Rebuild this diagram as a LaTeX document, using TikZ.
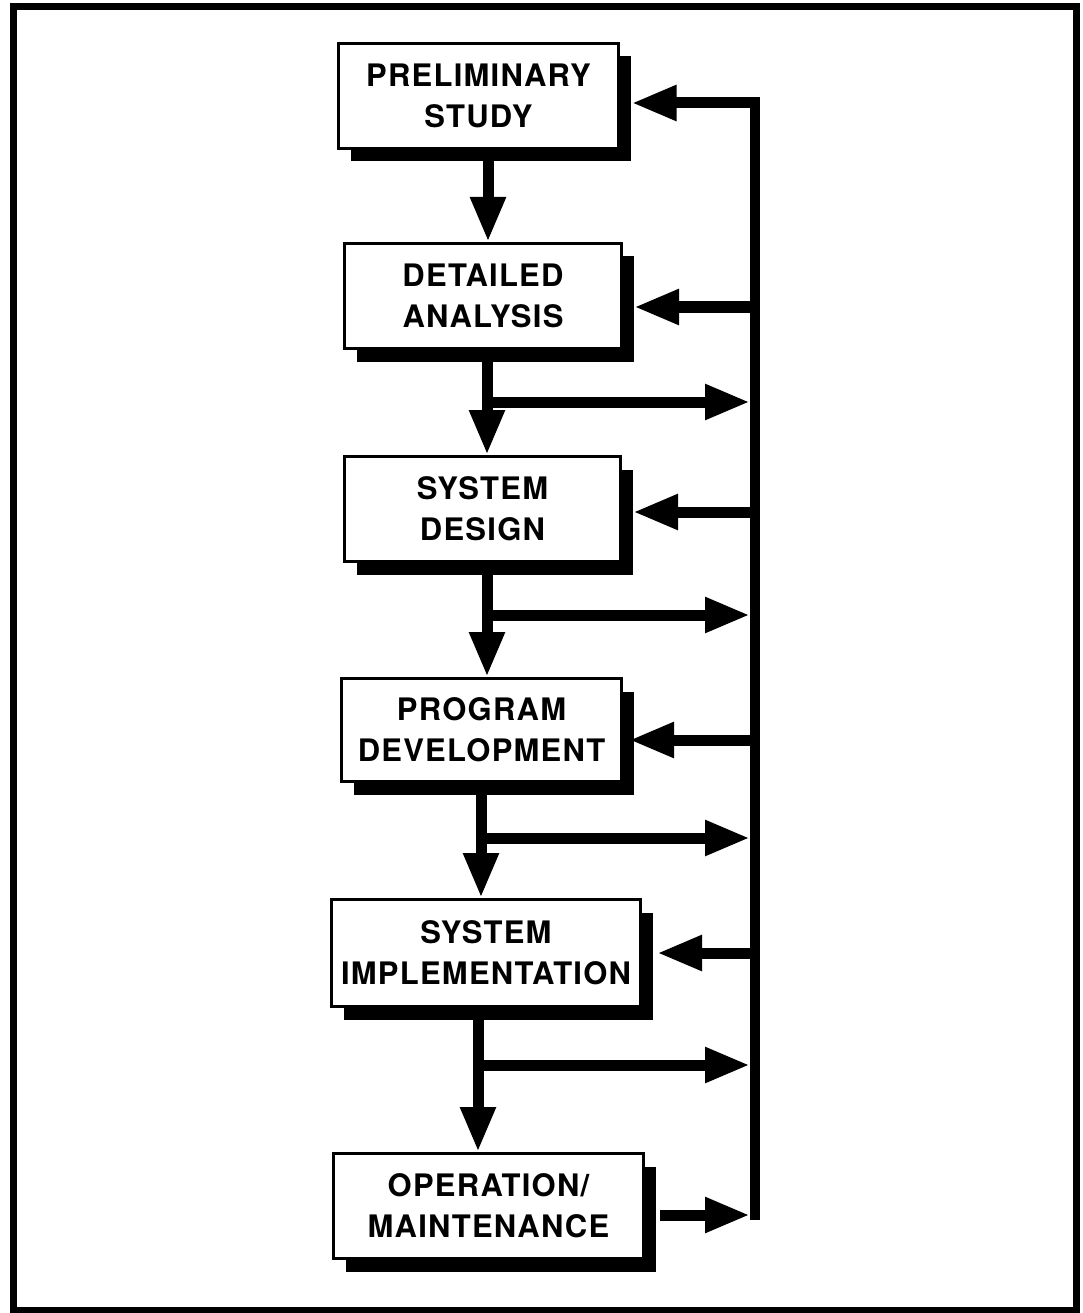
\documentclass[tikz,border=0pt]{standalone}
\usepackage{fontspec}
\setmainfont{TeX Gyre Heros}
\newfontfamily\stagefont{TeX Gyre Heros}[LetterSpace=4]
\usetikzlibrary{arrows.meta,calc,shadows}

\begin{document}
\begin{tikzpicture}[x=1pt,y=-1pt,
  stage/.style={draw, line width=3pt, fill=white, align=center, inner sep=0pt,
    font=\stagefont\bfseries\fontsize{31}{41}\selectfont,
    drop shadow={shadow xshift=12pt, shadow yshift=-13pt, fill=black, opacity=1}},
  flow/.style={line width=11pt, -{Triangle[length=45pt,width=33pt]}},
  busline/.style={line width=10pt, line cap=rect},
  frame/.style={line width=6.5pt}]

% page and frame
\useasboundingbox (0,0) rectangle (1083,1313);
\draw[frame] (13.5,6.5) rectangle (1076.5,1310.5);

% stages
\node[stage, minimum width=280pt, minimum height=105pt] (b1) at (478.5,96) {PRELIMINARY\\STUDY};
\node[stage, minimum width=277pt, minimum height=105pt] (b2) at (483,296) {DETAILED\\ANALYSIS};
\node[stage, minimum width=276pt, minimum height=105pt] (b3) at (482.5,509) {SYSTEM\\DESIGN};
\node[stage, minimum width=280pt, minimum height=103pt] (b4) at (481.5,730) {PROGRAM\\DEVELOPMENT};
\node[stage, minimum width=309pt, minimum height=107pt] (b5) at (486,953) {SYSTEM\\IMPLEMENTATION};
\node[stage, minimum width=310pt, minimum height=105pt] (b6) at (488.5,1206) {OPERATION/\\MAINTENANCE};

% columns of the downward flow and the feedback bus
\coordinate (d1) at (488,0);
\coordinate (d2) at (487,0);
\coordinate (d3) at (487,0);
\coordinate (d4) at (481,0);
\coordinate (d5) at (478,0);
\coordinate (busL) at (750,0);
\coordinate (busTop) at (755,102);
\coordinate (busBot) at (755,1215);

% feedback bus
\draw[busline] (busBot) -- (busTop);

% downward flow
\draw[flow] (b1.south -| d1) -- (b2.north -| d1);
\draw[flow] (b2.south -| d2) -- (b3.north -| d2);
\draw[flow] (b3.south -| d3) -- (b4.north -| d3);
\draw[flow] (b4.south -| d4) -- (b5.north -| d4);
\draw[flow] (b5.south -| d5) -- (b6.north -| d5);

% branches into the bus
\coordinate (j2) at (487,402);
\coordinate (j3) at (487,615);
\coordinate (j4) at (481,838);
\coordinate (j5) at (478,1065);
\draw[flow] (j2) -- (j2 -| busL);
\draw[flow] (j3) -- (j3 -| busL);
\draw[flow] (j4) -- (j4 -| busL);
\draw[flow] (j5) -- (j5 -| busL);
\coordinate (o6) at ($(b6.east)+(15,9)$);
\draw[flow] (o6) -- (o6 -| busL);

% returns from the bus
\coordinate (f1) at (760,103);
\coordinate (f2) at (755,307);
\coordinate (f3) at (755,512);
\coordinate (f4) at (755,740);
\coordinate (f5) at (755,953);
\draw[flow] (f1) -- ($(b1.east)+(11.5,7)$);
\draw[flow] (f2) -- ($(b2.east)+(11,11)$);
\draw[flow] (f3) -- ($(b3.east)+(11,3)$);
\draw[flow] (f4) -- ($(b4.east)+(6,10)$);
\draw[flow] (f5) -- ($(b5.east)+(15,0)$);
\end{tikzpicture}
\end{document}
